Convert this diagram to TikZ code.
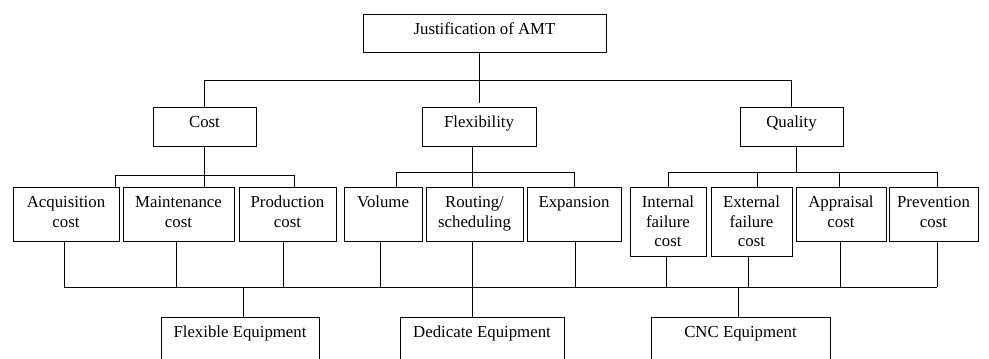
\documentclass[tikz,border=0pt]{standalone}
\usepackage{fontspec}
\setmainfont{Liberation Serif}
\usepackage{tikz}

\begin{document}
\begin{tikzpicture}[x=1pt,y=-1pt,
  font=\fontsize{16.8pt}{19.5pt}\selectfont,
  box/.style={draw, line width=0.9pt, inner sep=0pt, align=center, anchor=north, text height=20.5pt},
  head/.style={box, text depth=18.5pt},
  leaf/.style={box, text depth=33.5pt},
  leaftwo/.style={box, text height=40pt, text depth=14pt},
  tall/.style={box, text height=59.5pt, text depth=9.5pt},
  link/.style={line width=0.9pt}]
  \useasboundingbox (0,0) rectangle (989,359);
  \clip (0,0) rectangle (989,359);

  \node[box, text depth=17.5pt, minimum width=243pt] (just) at (484.5,14) {Justification of AMT};

  \node[head, minimum width=103pt] (cost) at (204.5,107) {Cost};
  \node[head, minimum width=114pt] (flex) at (479,107) {Flexibility};
  \node[head, minimum width=103pt] (quality) at (791.5,107) {Quality};

  \node[leaftwo, minimum width=106pt] (acq) at (66,187) {Acquisition\\cost};
  \node[leaftwo, minimum width=111pt] (maint) at (178.5,187) {Maintenance\\cost};
  \node[leaftwo, minimum width=97pt] (prod) at (287.5,187) {Production\\cost};
  \node[leaf, minimum width=78pt] (vol) at (383,187) {Volume};
  \node[leaftwo, minimum width=97pt] (rout) at (474.5,187) {Routing/\\scheduling};
  \node[leaf, minimum width=94pt] (exp) at (574,187) {Expansion};
  \node[tall, minimum width=76pt] (int) at (668,187) {Internal\\failure\\cost};
  \node[tall, minimum width=81pt] (ext) at (751.5,187) {External\\failure\\cost};
  \node[leaftwo, minimum width=90pt] (appr) at (841,187) {Appraisal\\cost};
  \node[leaftwo, minimum width=89pt] (prev) at (933.5,187) {Prevention\\cost};

  \node[leaf, minimum width=158pt] (flexeq) at (240,317) {Flexible Equipment};
  \node[leaf, minimum width=164pt] (dedeq) at (482,317) {Dedicate Equipment};
  \node[leaf, minimum width=179pt] (cnc) at (740.5,317) {CNC Equipment};

  \coordinate (tbar) at (484.5,80);
  \coordinate (cbar) at (204.5,175);
  \coordinate (fbar) at (472,172);
  \coordinate (qbar) at (796,172);
  \coordinate (bbar) at (472,287);

  \draw[link] (flex.north |- just.south) -- ([yshift=4pt]flex.north);
  \draw[link] (cost.north) |- (quality.north |- tbar) -- (quality.north);

  \draw[link] (cost.south) -- (cbar);
  \draw[link] ([xshift=49pt]acq.north) |- ([xshift=6.5pt]prod.north |- cbar) -- ([xshift=6.5pt]prod.north);
  \draw[link] ([xshift=26pt]maint.north) -- (cbar);

  \draw[link] (flex.south -| fbar) -- (rout.north -| fbar);
  \draw[link] ([xshift=13pt]vol.north) |- (exp.north |- fbar) -- (exp.north);

  \draw[link] (quality.south -| qbar) -- (qbar);
  \draw[link] (int.north) |- ([xshift=3.5pt]prev.north |- qbar) -- ([xshift=3.5pt]prev.north);
  \draw[link] ([xshift=6pt]ext.north) -- ([xshift=6pt]ext.north |- qbar);
  \draw[link] ([xshift=-2pt]appr.north) -- ([xshift=-2pt]appr.north |- qbar);

  \foreach \n/\dx in {acq/-2,maint/-2.5,prod/-4.5,vol/-3,rout/-2.5,exp/1,int/-2,ext/-3.5,appr/-1,prev/3.5}
    \draw[link] ([xshift=\dx pt]\n.south) -- ([xshift=\dx pt]\n.south |- bbar);
  \draw[link] ([xshift=-2pt]acq.south |- bbar) -- ([xshift=3.5pt]prev.south |- bbar);

  \draw[link] ([xshift=3pt]flexeq.north |- bbar) -- ([xshift=3pt]flexeq.north);
  \draw[link] (bbar) -- (dedeq.north -| bbar);
  \draw[link] ([xshift=-2.5pt]cnc.north |- bbar) -- ([xshift=-2.5pt]cnc.north);
\end{tikzpicture}
\end{document}
